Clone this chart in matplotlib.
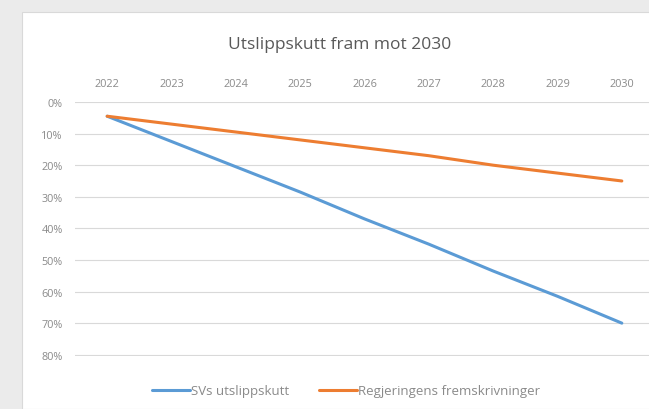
import matplotlib.pyplot as plt
from matplotlib.patches import Rectangle
from matplotlib.ticker import FuncFormatter

plt.rcParams['font.family'] = ['Open Sans', 'DejaVu Sans']

years = ['2022', '2023', '2024', '2025', '2026', '2027', '2028', '2029', '2030']
sv_cut = [4.5, 12.5, 20.5, 28.5, 37, 45, 53.5, 61.5, 70]
gov_proj = [4.5, 7, 9.5, 12, 14.5, 17, 20, 22.5, 25]
labels = ['SVs utslippskutt', 'Regjeringens fremskrivninger']

fig = plt.figure(figsize=(6.49, 4.10), dpi=100, facecolor='#ebebeb')
# white chart area, Excel style
fig.patches.append(Rectangle((22 / 649, 0), 1, 1 - 13 / 410, transform=fig.transFigure,
                             facecolor='white', edgecolor='#d9d9d9', linewidth=0.8, zorder=-10))

ax = fig.add_axes([75 / 649, 1 - 357 / 410, 579 / 649, 254 / 410])
ax.set_facecolor('none')
ax.set_zorder(5)

x = list(range(len(years)))
ax.plot(x, sv_cut, color='#5b9bd5', linewidth=2.2, label=labels[0], solid_capstyle='round')
ax.plot(x, gov_proj, color='#ed7d31', linewidth=2.2, label=labels[1], solid_capstyle='round')

ax.set_xlim(-0.5, len(years) - 0.5)
ax.set_ylim(80.4, 0)
ax.set_yticks(range(0, 81, 10))
ax.yaxis.set_major_formatter(FuncFormatter(lambda v, p: f'{int(v)}%'))
ax.set_xticks(x)
ax.set_xticklabels(years)
ax.xaxis.tick_top()
ax.tick_params(axis='both', length=0, labelsize=7.8, labelcolor='#8a8a8a')
ax.tick_params(axis='x', pad=9.5)
ax.tick_params(axis='y', pad=9)
ax.grid(axis='y', color='#d9d9d9', linewidth=0.8)
ax.set_axisbelow(True)
for s in ax.spines.values():
    s.set_visible(False)

fig.text(340 / 649, 1 - 45 / 410, 'Utslippskutt fram mot 2030', ha='center', va='center',
         fontsize=12.5, color='#595959')

fig.legend(loc='center', bbox_to_anchor=(346 / 649, 1 - 392 / 410), ncol=2, frameon=False,
           fontsize=9.5, labelcolor='#8a8a8a', handlelength=2.9, handletextpad=0.1,
           columnspacing=2.2)

plt.savefig('out.png', dpi=100, facecolor=fig.get_facecolor())
plt.close()
